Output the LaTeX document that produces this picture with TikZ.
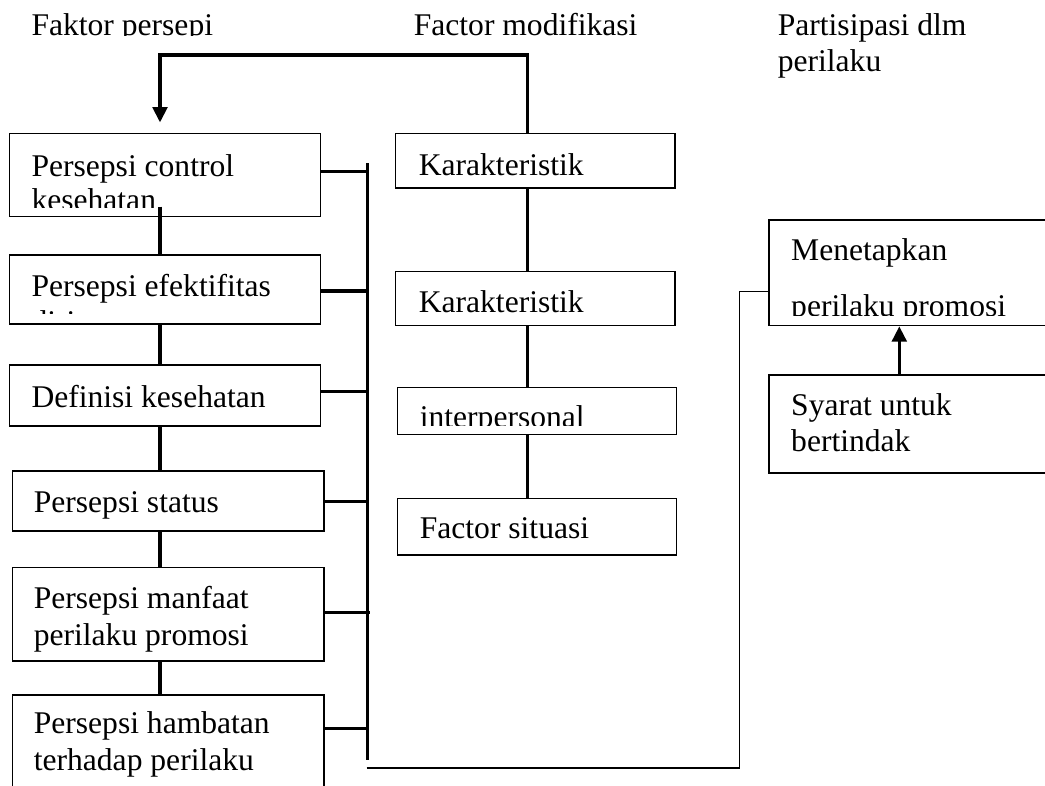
\documentclass[tikz,border=0pt]{standalone}
\usepackage{fontspec}
\setmainfont{Liberation Serif}
\usetikzlibrary{arrows.meta,fit}
\begin{document}
\begin{tikzpicture}[x=0.38pt,y=-0.38pt,
  box/.style={draw, line width=0.5pt, inner sep=0pt, rectangle},
  txt/.style={anchor=base west, inner sep=0pt, font=\fontsize{12}{14}\selectfont},
  link/.style={line width=1.15pt},
  thinlink/.style={line width=0.6pt},
  tip/.style={-{Triangle[width=5.6pt,length=5.8pt]}}
]
\clip (0,0) rectangle (1045,785);
\fill[white] (0,0) rectangle (1045,785);

% column headings
\begin{scope}
  \clip (0,0) rectangle (380,35.5);
  \node[txt] (h1) at (31,35) {Faktor persepi};
\end{scope}
\node[txt] (h2) at (413.3,35) {Factor modifikasi};
\node[txt] (h3a) at (777.3,35.5) {Partisipasi dlm};
\node[txt] (h3b) at (777.3,71) {perilaku};

% perception factors (left column)
\node[box, fit={(9.3,133.3) (320.7,216.7)}] (b1) {};
\node[box, fit={(9.3,255) (320.7,324)}] (b2) {};
\node[box, fit={(9.3,365) (320.7,426)}] (b3) {};
\node[box, fit={(12.7,471) (324,531)}] (b4) {};
\node[box, fit={(12.7,567.3) (324,661)}] (b5) {};
\node[box, fit={(12.7,695) (324,820)}] (b6) {};

\begin{scope}
  \clip (b1.north west) rectangle (330,207);
  \node[txt] (t1a) at (31,176) {Persepsi control};
  \node[txt] (t1b) at (31,210) {kesehatan};
\end{scope}
\begin{scope}
  \clip (b2.north west) rectangle (330,313.5);
  \node[txt] (t2a) at (31,296) {Persepsi efektifitas};
  \node[txt] (t2b) at (31,332.7) {diri};
\end{scope}
\node[txt] (t3) at (31,407) {Definisi kesehatan};
\node[txt] (t4) at (33.3,512) {Persepsi status};
\node[txt] (t5a) at (33.3,608) {Persepsi manfaat};
\node[txt] (t5b) at (33.3,645) {perilaku promosi};
\begin{scope}
  \clip (b6.north west) rectangle (330,776);
  \node[txt] (t6a) at (33.3,733) {Persepsi hambatan};
  \node[txt] (t6b) at (33.3,770) {terhadap perilaku};
\end{scope}

% modifying factors (middle column)
\node[box, fit={(395.7,133.3) (675,188)}] (k1) {};
\node[box, fit={(395.7,271.7) (675,325.7)}] (k2) {};
\node[box, fit={(397.3,387.7) (676.7,434.3)}] (ip) {};
\node[box, fit={(397.3,498.3) (676.7,555)}] (fs) {};
\node[txt] (tk1) at (418.3,175) {Karakteristik};
\node[txt] (tk2) at (418.3,312) {Karakteristik};
\begin{scope}
  \clip (ip.north west) rectangle (680,425.5);
  \node[txt] (tip1) at (419.3,427) {interpersonal};
\end{scope}
\node[txt] (tfs) at (419.3,538.3) {Factor situasi};

% behaviour (right column)
\node[box, fit={(769,220) (1070,325.7)}] (m) {};
\node[box, fit={(769,375) (1070,473)}] (s) {};
\node[txt] (tma) at (790.7,260) {Menetapkan};
\begin{scope}
  \clip (m.north west) rectangle (1045,315);
  \node[txt] (tmb) at (790.7,316.5) {perilaku promosi};
\end{scope}
\node[txt] (tsa) at (790.7,415) {Syarat untuk};
\node[txt] (tsb) at (790.7,451.7) {bertindak};

% guide coordinates
\coordinate (lx) at (160,0);
\coordinate (mx) at (527.5,0);
\coordinate (ax) at (899.3,0);
\coordinate (b1in) at (160,206.7);
\coordinate (turn1) at (527.5,55);
\coordinate (turn2) at (160,55);
\coordinate (bustop) at (367.7,163);
\coordinate (busbot) at (367.7,759.5);
\coordinate (j1) at (368.5,171.7);
\coordinate (j2) at (368.5,291);
\coordinate (j3) at (368.5,391.3);
\coordinate (j4) at (368.5,501.7);
\coordinate (j5) at (369.5,612.7);
\coordinate (j6) at (368.5,728.5);
\coordinate (r0) at (366.7,768);
\coordinate (r1) at (739.3,768);
\coordinate (r2) at (739.3,291.5);

% feedback from modifying factors to perception factors
\draw[link, tip, shorten >=3.9pt] (mx |- k1.north) -- (turn1) -- (turn2) -- (lx |- b1.north);

% left chain
\draw[link] (b1in) -- (lx |- b2.north);
\draw[link] (lx |- b2.south) -- (lx |- b3.north);
\draw[link] (lx |- b3.south) -- (lx |- b4.north);
\draw[link] (lx |- b4.south) -- (lx |- b5.north);
\draw[link] (lx |- b5.south) -- (lx |- b6.north);

% bus collecting the perception factors
\draw[link] (bustop) -- (busbot);
\draw[link] (b1.east |- j1) -- (j1);
\draw[link] (b2.east |- j2) -- (j2);
\draw[link] (b3.east |- j3) -- (j3);
\draw[link] (b4.east |- j4) -- (j4);
\draw[link] (b5.east |- j5) -- (j5);
\draw[link] (b6.east |- j6) -- (j6);

% middle chain
\draw[link] (mx |- k1.south) -- (mx |- k2.north);
\draw[link] (mx |- k2.south) -- (mx |- ip.north);
\draw[link] (mx |- ip.south) -- (mx |- fs.north);

% link to the behaviour box
\draw[thinlink] (r0) -- (r1) -- (r2) -- (m.west |- r2);

% cues to action
\draw[link, tip] (ax |- s.north) -- (ax |- m.south);
\end{tikzpicture}
\end{document}
